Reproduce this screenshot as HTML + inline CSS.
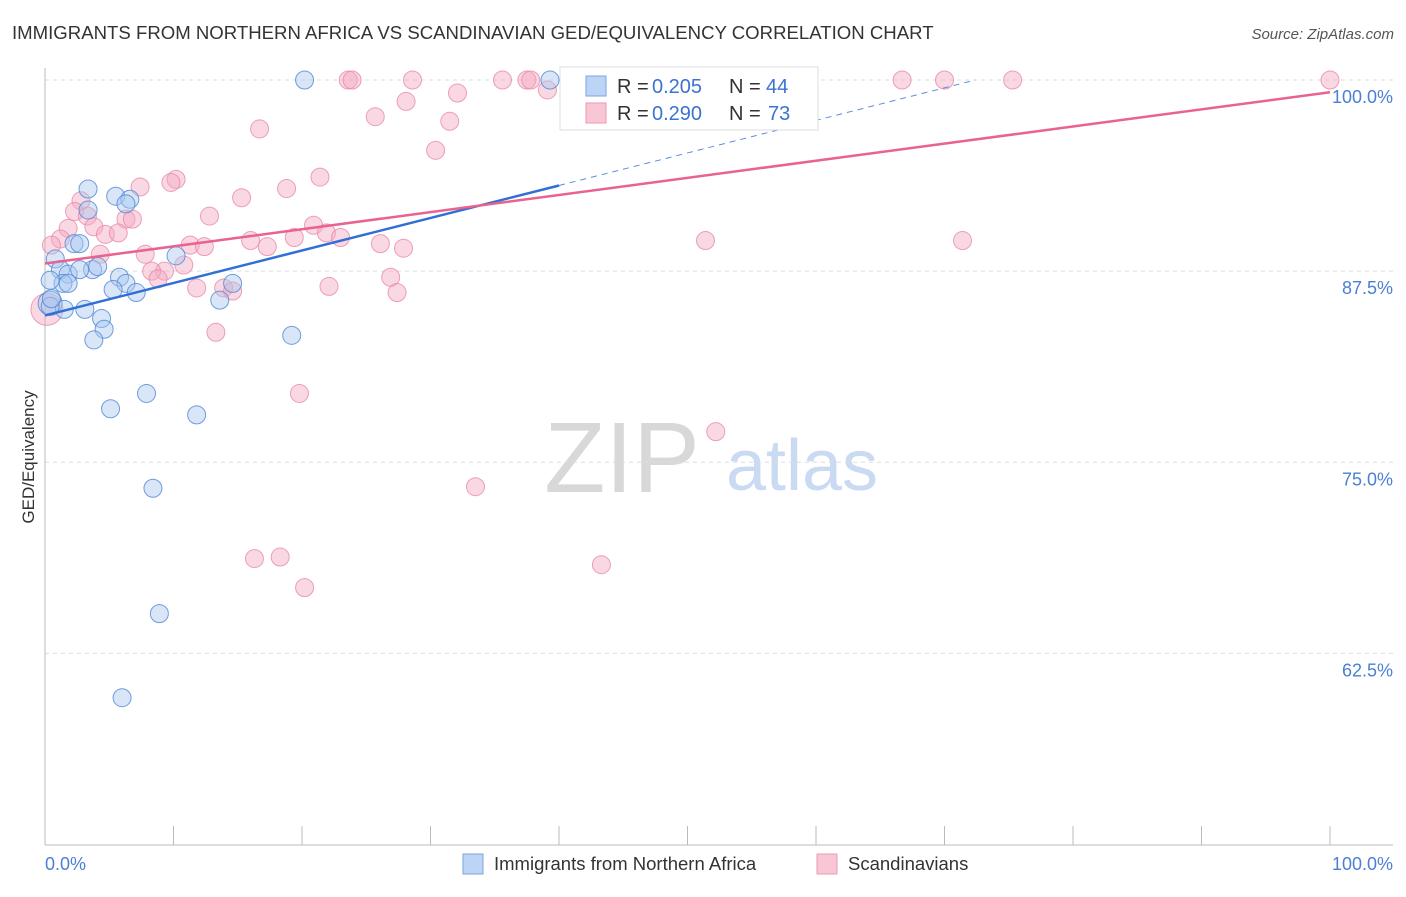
<!DOCTYPE html>
<html><head><meta charset="utf-8"><style>
body{margin:0;background:#fff;font-family:"Liberation Sans",sans-serif}
svg text{font-family:"Liberation Sans",sans-serif}
</style></head><body>
<svg width="1406" height="892">
<text x="12" y="39" font-size="18.6" fill="#333">IMMIGRANTS FROM NORTHERN AFRICA VS SCANDINAVIAN GED/EQUIVALENCY CORRELATION CHART</text>
<text x="1394" y="39" font-size="15" fill="#555" text-anchor="end" font-style="italic">Source: ZipAtlas.com</text>
<text x="622" y="492" font-size="100" fill="#d8d8d8" font-family="Liberation Serif" text-anchor="middle">ZIP</text>
<text x="802" y="490" font-size="72" fill="#c9daf2" text-anchor="middle">atlas</text>
<g id="grid"></g>
<g id="axes"></g>
<g id="marks"></g>
<text x="34" y="457" font-size="17" fill="#333" text-anchor="middle" transform="rotate(-90 34 457)">GED/Equivalency</text>
<text x="45" y="870" font-size="18" fill="#4a7fd4">0.0%</text>
<text x="1393" y="870" font-size="18" fill="#4a7fd4" text-anchor="end">100.0%</text>
<g>
<rect x="560" y="67" width="258" height="63" fill="#fff" stroke="#ddd"/>
<rect x="586" y="76" width="20" height="20" fill="#bcd4f5" stroke="#7aa6e3"/>
<rect x="586" y="103" width="20" height="20" fill="#f9c6d6" stroke="#eb9ab4"/>
<text x="617" y="93" font-size="20" fill="#333">R =</text>
<text x="652" y="93" font-size="20" fill="#3a73d0">0.205</text>
<text x="729" y="93" font-size="20" fill="#333">N =</text>
<text x="766" y="93" font-size="20" fill="#3a73d0">44</text>
<text x="617" y="120" font-size="20" fill="#333">R =</text>
<text x="652" y="120" font-size="20" fill="#3a73d0">0.290</text>
<text x="729" y="120" font-size="20" fill="#333">N =</text>
<text x="768" y="120" font-size="20" fill="#3a73d0">73</text>
</g>
<g>
<rect x="463" y="854" width="20" height="20" fill="#bcd4f5" stroke="#7aa6e3"/>
<text x="494" y="870" font-size="18.5" fill="#333">Immigrants from Northern Africa</text>
<rect x="817" y="854" width="20" height="20" fill="#f9c6d6" stroke="#eb9ab4"/>
<text x="848" y="870" font-size="18.5" fill="#333">Scandinavians</text>
</g>
</svg>
<script>
const yTicks=[100,87.5,75,62.5];
const yTickLabels=["100.0%","87.5%","75.0%","62.5%"];
const xTicks=[0,10,20,30,40,50,60,70,80,90,100];
const blueX=[20.2,39.3,3.35,5.5,6.6,6.3,3.35,2.26,2.7,0.8,1.2,1.8,1.4,1.8,3.7,4.1,5.8,6.3,5.3,7.1,10.2,14.6,13.6,3.1,1.5,0.4,4.4,4.6,3.8,19.2,5.1,7.9,11.8,8.4,8.9,6.0,0.5,2.7,0.4];
const blueY=[100,100,92.87,92.4,92.2,91.9,91.5,89.3,89.3,88.3,87.6,87.3,86.7,86.7,87.6,87.8,87.1,86.7,86.3,86.1,88.5,86.7,85.6,85.0,85.0,85.2,84.4,83.7,83.0,83.3,78.5,79.5,78.1,73.3,65.1,59.6,85.7,87.6,86.9];
const pinkX=[23.6,23.9,28.6,35.6,37.5,37.8,42.0,47.6,66.7,70.0,75.3,100,39.1,32.1,28.1,25.7,31.5,16.7,30.4,21.4,10.2,9.8,7.4,18.8,15.3,2.8,2.3,12.8,6.3,6.8,3.3,20.9,1.8,3.8,4.7,5.7,21.9,23.0,16.0,51.4,71.4,19.4,1.2,0.5,11.3,12.4,17.3,26.1,27.9,4.3,7.8,10.8,9.3,8.3,8.8,26.9,11.8,13.9,14.6,22.1,27.4,13.3,19.8,52.2,33.5,16.3,18.3,43.3,20.2];
const pinkY=[100,100,100,100,100,100,100,100,100,100,100,100,99.35,99.15,98.6,97.6,97.3,96.8,95.4,93.65,93.5,93.3,93.0,92.9,92.3,92.1,91.4,91.1,90.9,90.9,91.1,90.5,90.3,90.4,89.9,90.0,90.0,89.7,89.5,89.5,89.5,89.7,89.6,89.2,89.2,89.1,89.1,89.3,89.0,88.6,88.6,87.9,87.5,87.5,87.0,87.1,86.4,86.4,86.2,86.5,86.1,83.5,79.5,77.0,73.4,68.7,68.8,68.3,66.8];
const bigPinkX=[0.15], bigPinkY=[85.0];
const bigBlueX=[0.4], bigBlueY=[85.4];
const blueTrend=[[0,84.6],[40,93.1],[72.4,100]];
const pinkTrend=[[0,88.0],[100,99.2]];
const X=v=>45+v*12.85, Y=v=>80+(100-v)*15.29;
const NS="http://www.w3.org/2000/svg";
function mk(tag,attrs,parent){const e=document.createElementNS(NS,tag);for(const k in attrs)e.setAttribute(k,attrs[k]);document.getElementById(parent).appendChild(e);return e;}
yTicks.forEach((t,i)=>{
 const g=mk('line',{x1:45,x2:1393,y1:Y(t),y2:Y(t),stroke:'#ddd','stroke-dasharray':'4,4'},'grid');
 
 
 const l=mk('text',{x:1393,y:Y(t)+23,'font-size':18,fill:'#4a7fd4','text-anchor':'end'},'grid');
 l.textContent=yTickLabels[i];
 
 
});
const ax=mk('line',{x1:45,x2:1393,y1:845,y2:845,stroke:'#bbb'},'axes');


const ay=mk('line',{x1:45,x2:45,y1:68,y2:845,stroke:'#bbb'},'axes');


xTicks.forEach(t=>{
 const k=mk('line',{x1:X(t),x2:X(t),y1:826,y2:845,stroke:'#bbb'},'axes');
 
 
});
function dots(xs,ys,fill,stroke,name,r){
 xs.forEach((x,i)=>{
  const c=mk('circle',{cx:X(x),cy:Y(ys[i]),r:r,fill:fill,'fill-opacity':0.45,stroke:stroke,'stroke-opacity':0.8,'stroke-width':1},'marks');
  
  
 });
}
dots(bigPinkX,bigPinkY,'#f4a9c0','#e88aa8','pink-point-large',16);
dots(pinkX,pinkY,'#f4a9c0','#e88aa8','pink-point',9);
dots(bigBlueX,bigBlueY,'#a9c8f0','#4f86d6','blue-point-large',12);
dots(blueX,blueY,'#a9c8f0','#4f86d6','blue-point',9);
const b1=mk('line',{x1:X(blueTrend[0][0]),y1:Y(blueTrend[0][1]),x2:X(blueTrend[1][0]),y2:Y(blueTrend[1][1]),stroke:'#2f6fd6','stroke-width':2.5},'marks');


const b2=mk('line',{x1:X(blueTrend[1][0]),y1:Y(blueTrend[1][1]),x2:X(blueTrend[2][0]),y2:Y(blueTrend[2][1]),stroke:'#5b8fd8','stroke-width':1,'stroke-dasharray':'6,5'},'marks');


const p1=mk('line',{x1:X(pinkTrend[0][0]),y1:Y(pinkTrend[0][1]),x2:X(pinkTrend[1][0]),y2:Y(pinkTrend[1][1]),stroke:'#e8638e','stroke-width':2.5},'marks');


</script>
</body></html>
